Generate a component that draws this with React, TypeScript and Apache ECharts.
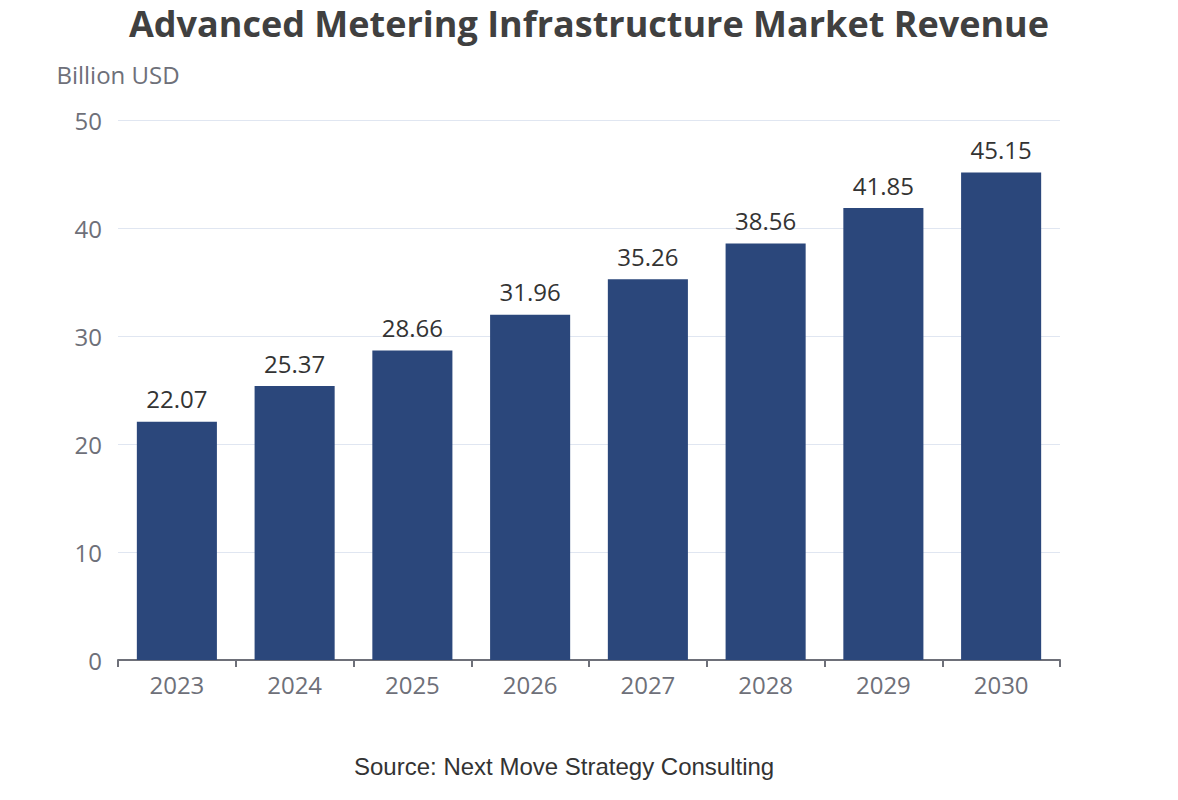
import React, { useEffect, useRef } from "react";
import * as echarts from "echarts";

const categories = ["2023", "2024", "2025", "2026", "2027", "2028", "2029", "2030"];
const revenue = [22.07, 25.37, 28.66, 31.96, 35.26, 38.56, 41.85, 45.15];
const yTicks = { min: 0, max: 50, interval: 10 };

export default function App() {
  const ref = useRef<HTMLDivElement>(null);
  useEffect(() => {
    if (!ref.current) return;
    const chart = echarts.init(ref.current, undefined, { renderer: "svg" });
    chart.setOption({
      animation: false,
      title: {
        text: "Advanced Metering Infrastructure Market Revenue",
        left: "center",
        top: 0,
        textStyle: { fontFamily: "Open Sans", fontWeight: "bold", fontSize: 36, color: "#404040" },
      },
      graphic: [
        {
          type: "text",
          left: 354,
          top: 754,
          style: {
            text: "Source: Next Move Strategy Consulting",
            fontFamily: "Liberation Sans, Arial",
            fontSize: 24,
            fill: "#333",
          },
        },
      ],
      grid: { left: 118, right: 118, top: 120, bottom: 140 },
      xAxis: {
        type: "category",
        data: categories,
        axisLine: { lineStyle: { color: "#6e7079", width: 2 } },
        axisTick: { show: true, alignWithLabel: false, lineStyle: { color: "#6e7079", width: 2 }, length: 7 },
        axisLabel: { fontFamily: "Open Sans", fontSize: 24, color: "#6e7079", margin: 12 },
      },
      yAxis: {
        type: "value",
        min: yTicks.min,
        max: yTicks.max,
        interval: yTicks.interval,
        name: "Billion USD",
        nameGap: 34,
        nameTextStyle: { fontFamily: "Open Sans", fontSize: 24, color: "#6e7079" },
        axisLabel: { fontFamily: "Open Sans", fontSize: 24, color: "#6e7079", margin: 16 },
        splitLine: { lineStyle: { color: "#e0e6f1" } },
      },
      series: [
        {
          type: "bar",
          data: revenue,
          barWidth: "68%",
          itemStyle: { color: "#2b477b" },
          label: {
            show: true,
            position: "top",
            distance: 11,
            fontFamily: "Open Sans",
            fontSize: 24,
            color: "#333",
          },
        },
      ],
    });
    return () => chart.dispose();
  }, []);
  return <div ref={ref} style={{ position: "absolute", left: 0, top: 0, width: 1178, height: 800 }} />;
}
